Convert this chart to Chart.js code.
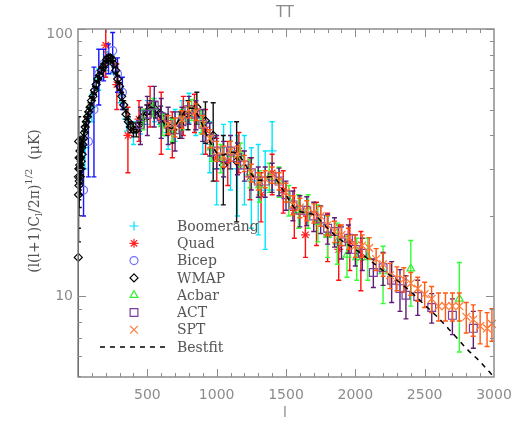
<!DOCTYPE html>
<html>
<head>
<meta charset="utf-8">
<script src="https://cdn.jsdelivr.net/npm/chart.js@4.4.0/dist/chart.umd.min.js"></script>
<style>
  html, body { margin: 0; padding: 0; background: #fff; }
</style>
</head>
<body>
<canvas id="myChart" width="518" height="436"></canvas>
<script>
"use strict";

// data, l vs sqrt(l(l+1)Cl/2pi) in uK
const boomerangL = [50, 100, 150, 200, 250, 300, 350, 400, 450, 500, 550, 600, 650, 700, 750, 800, 850, 900, 950, 1000, 1050, 1100, 1150, 1200, 1250, 1300, 1350, 1400];
const boomerangV = [36, 51, 65, 76, 74, 58, 46, 41, 45, 49, 50, 44, 41, 44, 48, 51, 47, 41, 37, 30, 36, 35, 30, 31, 27, 27, 25, 35];
const boomerangE = [6, 6, 6, 6, 6, 5, 4.5, 4, 4.5, 5, 5, 5, 5.5, 6, 6, 6.5, 7, 7, 8, 8, 8, 10, 10, 9, 9, 10, 10, 10];

const quadL = [200, 280, 360, 440, 520, 600, 680, 760, 840, 920, 1000, 1080, 1160, 1240, 1320, 1400, 1480, 1560, 1640, 1720, 1800, 1880, 1960, 2040];
const quadV = [87, 62, 40, 46, 52, 46, 41, 48, 49, 42, 33, 32, 35, 28, 24, 29, 25, 21, 17, 19, 17, 15, 16, 14];
const quadE = [21, 12, 11, 8, 9, 12, 8, 8, 8, 8, 6, 6, 6, 5, 5, 5, 4.5, 4.5, 3, 3.5, 3.5, 3.5, 3.5, 3.5];

const bicepL = [40, 75, 115, 150, 185, 220, 250, 285, 320];
const bicepV = [25, 38, 50, 68, 74, 78, 83, 68, 58];
const bicepE = [5, 10, 22, 16, 10, 10, 14, 10, 8];

const wmapL = [2, 3, 4, 5, 6, 7, 8, 9, 10, 12, 14, 16, 18, 20, 23, 26, 30, 35, 40, 46, 52, 60, 68, 77, 87, 97, 108, 119, 131, 143, 155, 168, 181, 194, 207, 220, 233, 246, 259, 272, 286, 300, 315, 330, 346, 363, 381, 400, 421, 444, 469, 496, 526, 559, 596, 637, 683, 735, 793, 857, 919, 975, 1048, 1144];
const wmapV = [14, 28, 24, 38, 30, 26, 33, 27, 30, 31, 35, 28, 33, 30, 32, 36, 34, 37, 39, 41, 43, 45, 47, 49, 51, 54, 56, 59, 62, 65, 67, 70, 72, 74, 77, 78, 78, 77, 74, 70, 65, 61, 56, 52, 48, 45, 43, 42, 42, 44, 47, 49, 51, 50, 48, 44, 42, 44, 48, 51, 45.4, 40, 31, 32];
const wmapE = [9, 10, 8, 9, 7, 6, 6, 5.5, 5, 4.5, 4.5, 4, 4, 3.5, 3.5, 3, 3, 2.5, 2.5, 2.5, 2, 2, 2, 2, 2, 2, 2, 2, 2, 2, 2, 2, 2, 2, 2, 2, 2, 2, 2, 2, 2, 2, 2, 2, 2, 2, 2, 2.5, 2.5, 2.5, 3, 3, 3, 3.5, 3.5, 4, 4.5, 5, 6, 7, 8, 13, 9, 13];

const acbarL = [470, 540, 610, 680, 750, 820, 890, 960, 1030, 1100, 1170, 1240, 1310, 1380, 1450, 1520, 1590, 1660, 1730, 1800, 1870, 1940, 2010, 2090, 2200, 2400, 2750];
const acbarV = [46, 51, 44, 42, 46, 50, 45, 36, 33, 34, 34, 29, 26, 28, 27, 23, 21, 21, 19, 17, 16, 14.3, 14, 14, 12.4, 12.7, 9.8];
const acbarE = [4, 4, 4, 4, 4, 4.5, 4.5, 4, 4, 4, 3.5, 3.5, 3.5, 3.5, 3.5, 3, 3, 3, 3, 3, 2.8, 2.5, 2.5, 2.5, 3, 3.5, 3.6];

const actL = [450, 500, 550, 600, 650, 700, 750, 800, 850, 900, 950, 1000, 1050, 1100, 1150, 1200, 1250, 1300, 1350, 1400, 1450, 1500, 1550, 1600, 1650, 1700, 1750, 1800, 1850, 1900, 1950, 2000, 2050, 2130, 2200, 2262, 2322, 2365, 2450, 2551, 2700, 2851];
const actV = [44, 48, 52, 47, 44, 42, 45, 50, 48, 44, 39, 35, 33, 35, 33, 31, 29, 27, 27, 28, 27, 24, 22, 21, 21, 20, 19.5, 18, 17.5, 16, 16.5, 15, 14.5, 12.3, 12.8, 11.5, 10.7, 10.1, 10, 9.1, 8.5, 7.6];
const actE = [7, 8, 9, 8, 7, 7, 6, 6, 6, 6, 5.5, 5, 5, 5, 4.5, 4, 4, 3.5, 3.5, 3.5, 3.2, 3, 2.8, 2.8, 2.6, 2.5, 2.3, 2.3, 2.2, 2.2, 2, 2, 2, 1.5, 1.8, 2, 1.9, 1.85, 1.5, 1.15, 1.3, 1.2];

const sptL = [650, 700, 750, 800, 850, 900, 950, 1000, 1050, 1100, 1150, 1200, 1250, 1300, 1350, 1400, 1450, 1500, 1550, 1600, 1650, 1700, 1750, 1800, 1850, 1900, 1950, 2000, 2050, 2100, 2150, 2200, 2250, 2300, 2350, 2400, 2450, 2500, 2550, 2600, 2650, 2700, 2750, 2800, 2850, 2900, 2950, 2985];
const sptV = [44, 43, 46, 50, 49, 44, 39, 35, 33.5, 35, 34, 31.5, 29, 27, 27.5, 28.5, 27, 24.5, 22, 21.5, 21, 20.5, 20, 18.5, 17.5, 17, 16.5, 15.5, 15.5, 15.2, 13.8, 13.2, 12, 11.7, 11.6, 11.2, 10.7, 10.2, 9.8, 9.2, 9.2, 9.2, 9.2, 8.4, 8.2, 7.75, 7.6, 7.9];
const sptE = [3.5, 3.5, 3.5, 3.5, 3.5, 3.5, 3, 3, 3, 3, 2.5, 2.2, 2.2, 2, 2, 2, 2, 2, 1.8, 1.8, 1.8, 1.7, 1.7, 1.6, 1.6, 1.5, 1.5, 1.5, 1.5, 1.4, 1.3, 1.3, 1.3, 1.2, 1.2, 1.1, 1.1, 1.1, 1.1, 1.1, 1.1, 1.1, 1.1, 1.1, 1.1, 1.1, 1.1, 1.1];

const bestfitL = [2, 10, 20, 30, 50, 75, 100, 125, 150, 175, 200, 220, 240, 260, 280, 300, 325, 350, 375, 400, 425, 450, 475, 500, 525, 550, 575, 600, 625, 650, 675, 700, 725, 750, 775, 800, 825, 850, 875, 900, 925, 950, 975, 1000, 1025, 1050, 1075, 1100, 1125, 1150, 1175, 1200, 1225, 1250, 1275, 1300, 1325, 1350, 1375, 1400, 1425, 1450, 1475, 1500, 1525, 1550, 1575, 1600, 1650, 1700, 1725, 1750, 1800, 1850, 1900, 1950, 2000, 2050, 2100, 2150, 2200, 2300, 2400, 2500, 2600, 2700, 2800, 2900, 3000];
const bestfitV = [30, 31, 33, 36, 42, 48, 53, 58, 65, 71, 76, 77.5, 76.5, 73, 67, 61, 54, 48, 44, 42, 42.5, 45, 48, 50, 51, 50.5, 48.5, 46, 44, 43, 42.5, 43.5, 45.5, 47.5, 49.5, 50.5, 50.5, 49, 46.5, 43.5, 40.5, 38, 36, 34.5, 33.8, 33.8, 34.2, 34.6, 34.6, 34, 33, 31.5, 30, 28.7, 27.7, 27.2, 27.2, 27.6, 28, 28, 27.5, 26.5, 25.2, 24, 22.8, 21.8, 21.2, 20.8, 20.5, 20.2, 19.8, 19.2, 18, 17, 16.2, 15.6, 15, 14.4, 13.7, 13.1, 12.5, 11.5, 10.4, 9.3, 8.3, 7.3, 6.4, 5.7, 5.0];

// axis ticks
const xTickLabels = [500, 1000, 1500, 2000, 2500, 3000];
const yTickLabels = [10, 100];
const yMinorTicks = [6, 7, 8, 9, 20, 30, 40, 50, 60, 70, 80, 90];

const axisGray = '#8c8c8c';
const textGray = '#555555';
const clear = 'rgba(0,0,0,0)';

function pts(ls, vs) {
    return ls.map(function (l, i) { return { x: l, y: vs[i] }; });
}

function dataSet(label, ls, vs, es, style, color, barColor, radius, order) {
    return {
        label: label,
        data: pts(ls, vs),
        errors: es,
        barColor: barColor,
        showLine: false,
        pointStyle: style,
        pointRadius: radius,
        pointBorderWidth: 1.2,
        pointBorderColor: color,
        pointBackgroundColor: clear,
        backgroundColor: clear,
        borderColor: color,
        order: order,
        clip: false
    };
}

const datasets = [
    dataSet('Boomerang', boomerangL, boomerangV, boomerangE, 'cross', '#00e0ff', '#00e8ff', 4.5, 7),
    dataSet('Quad', quadL, quadV, quadE, 'star', '#ff2020', '#ff1010', 4.5, 6),
    dataSet('Bicep', bicepL, bicepV, bicepE, 'circle', '#6f6fff', '#1515ff', 4, 5),
    dataSet('WMAP', wmapL, wmapV, wmapE, 'rectRot', '#000000', '#111111', 4, 4),
    dataSet('Acbar', acbarL, acbarV, acbarE, 'triangle', '#33ee33', '#33ff33', 4.5, 3),
    dataSet('ACT', actL, actV, actE, 'rect', '#7a3d9a', '#5e1c72', 5.5, 2),
    dataSet('SPT', sptL, sptV, sptE, 'crossRot', '#ff7a3a', '#ff5a10', 5.5, 1),
    {
        label: 'Bestfit',
        type: 'line',
        data: pts(bestfitL, bestfitV),
        borderColor: '#000000',
        backgroundColor: clear,
        borderWidth: 1.5,
        borderDash: [5, 5],
        pointRadius: 0,
        fill: false,
        cubicInterpolationMode: 'monotone',
        order: 0
    }
];

// vertical error bars with small caps, drawn just under each dataset's markers
const errorBars = {
    id: 'errorBars',
    beforeDatasetDraw(chart, args) {
        const ds = chart.data.datasets[args.index];
        if (!ds.errors) return;
        const ctx = chart.ctx, a = chart.chartArea;
        const x = chart.scales.x, y = chart.scales.y;
        ctx.save();
        ctx.beginPath();
        ctx.rect(a.left, a.top, a.right - a.left, a.bottom - a.top);
        ctx.clip();
        ctx.strokeStyle = ds.barColor;
        ctx.lineWidth = 1.4;
        ctx.beginPath();
        ds.data.forEach(function (p, i) {
            const px = x.getPixelForValue(p.x);
            const top = y.getPixelForValue(p.y + ds.errors[i]);
            const bot = y.getPixelForValue(Math.max(p.y - ds.errors[i], 1));
            ctx.moveTo(px, top); ctx.lineTo(px, bot);
            ctx.moveTo(px - 2.5, top); ctx.lineTo(px + 2.5, top);
            ctx.moveTo(px - 2.5, bot); ctx.lineTo(px + 2.5, bot);
        });
        ctx.stroke();
        ctx.restore();
    }
};

// box, inward ticks, labels and the legend in the IDL style
const frame = {
    id: 'frame',
    afterDatasetsDraw(chart) {
        const ctx = chart.ctx, a = chart.chartArea;
        const x = chart.scales.x, y = chart.scales.y;
        ctx.save();
        ctx.strokeStyle = axisGray;
        ctx.lineWidth = 1.5;
        ctx.strokeRect(a.left, a.top, a.right - a.left, a.bottom - a.top);
        ctx.lineWidth = 1;
        ctx.beginPath();
        for (let l = 100; l < 3000; l += 100) {
            const px = Math.round(x.getPixelForValue(l)) + 0.5;
            const len = l % 500 === 0 ? 8 : 4;
            ctx.moveTo(px, a.bottom); ctx.lineTo(px, a.bottom - len);
            ctx.moveTo(px, a.top); ctx.lineTo(px, a.top + len);
        }
        yMinorTicks.concat(yTickLabels).forEach(function (v) {
            const py = Math.round(y.getPixelForValue(v)) + 0.5;
            const len = yTickLabels.indexOf(v) >= 0 ? 8 : 4;
            ctx.moveTo(a.left, py); ctx.lineTo(a.left + len, py);
            ctx.moveTo(a.right, py); ctx.lineTo(a.right - len, py);
        });
        ctx.stroke();

        // tick labels
        ctx.fillStyle = axisGray;
        ctx.font = '14px "DejaVu Sans", sans-serif';
        ctx.textAlign = 'center';
        ctx.textBaseline = 'middle';
        xTickLabels.forEach(function (l) {
            ctx.fillText(String(l), x.getPixelForValue(l), a.bottom + 18);
        });
        ctx.textAlign = 'right';
        yTickLabels.forEach(function (v) {
            const py = Math.max(y.getPixelForValue(v), a.top + 5);
            ctx.fillText(String(v), a.left - 5, py);
        });

        // title and axis titles
        ctx.textAlign = 'center';
        ctx.font = '15px "DejaVu Sans", sans-serif';
        ctx.fillText('TT', 285, 13);
        ctx.font = '14px "DejaVu Sans", sans-serif';
        ctx.fillText('l', 285, 413);

        ctx.save();
        ctx.translate(35, 201);
        ctx.rotate(-Math.PI / 2);
        ctx.fillStyle = textGray;
        ctx.textAlign = 'left';
        const parts = [
            ['(l(l+1)C', 0, 14],
            ['l', 4, 10],
            ['/2\u03c0)', 0, 14],
            ['1/2', -6, 10],
            ['  (\u03bcK)', 0, 14]
        ];
        let total = 0;
        parts.forEach(function (p) {
            ctx.font = p[2] + 'px "DejaVu Serif", serif';
            total += ctx.measureText(p[0]).width;
        });
        let cx = -total / 2;
        parts.forEach(function (p) {
            ctx.font = p[2] + 'px "DejaVu Serif", serif';
            ctx.fillText(p[0], cx, p[1]);
            cx += ctx.measureText(p[0]).width;
        });
        ctx.restore();

        // legend
        ctx.font = '14px "DejaVu Serif", serif';
        ctx.textAlign = 'left';
        chart.data.datasets.forEach(function (ds, i) {
            const ly = 226 + i * 17.3;
            if (ds.errors) {
                ctx.fillStyle = clear;
                ctx.strokeStyle = ds.pointBorderColor;
                ctx.lineWidth = 1.2;
                Chart.helpers.drawPoint(ctx, {
                    pointStyle: ds.pointStyle,
                    radius: ds.pointRadius,
                    rotation: 0,
                    borderWidth: 1.2
                }, 134, ly);
            } else {
                ctx.strokeStyle = '#000000';
                ctx.lineWidth = 1.5;
                ctx.setLineDash([5, 5]);
                ctx.beginPath();
                ctx.moveTo(100, ly); ctx.lineTo(166, ly);
                ctx.stroke();
                ctx.setLineDash([]);
            }
            ctx.fillStyle = textGray;
            ctx.fillText(ds.label, 177, ly + 1);
        });
        ctx.restore();
    }
};

const ctx = document.getElementById('myChart');
const myChart = new Chart(ctx, {
    type: 'scatter',
    data: { datasets: datasets },
    options: {
        responsive: false,
        animation: false,
        devicePixelRatio: 1,
        layout: { padding: { left: 78, right: 24, top: 29, bottom: 59 } },
        plugins: {
            legend: { display: false },
            tooltip: { enabled: false }
        },
        scales: {
            x: { type: 'linear', min: 0, max: 3000, display: false },
            y: { type: 'logarithmic', min: 5, max: 100, display: false }
        }
    },
    plugins: [errorBars, frame]
});
</script>
</body>
</html>
